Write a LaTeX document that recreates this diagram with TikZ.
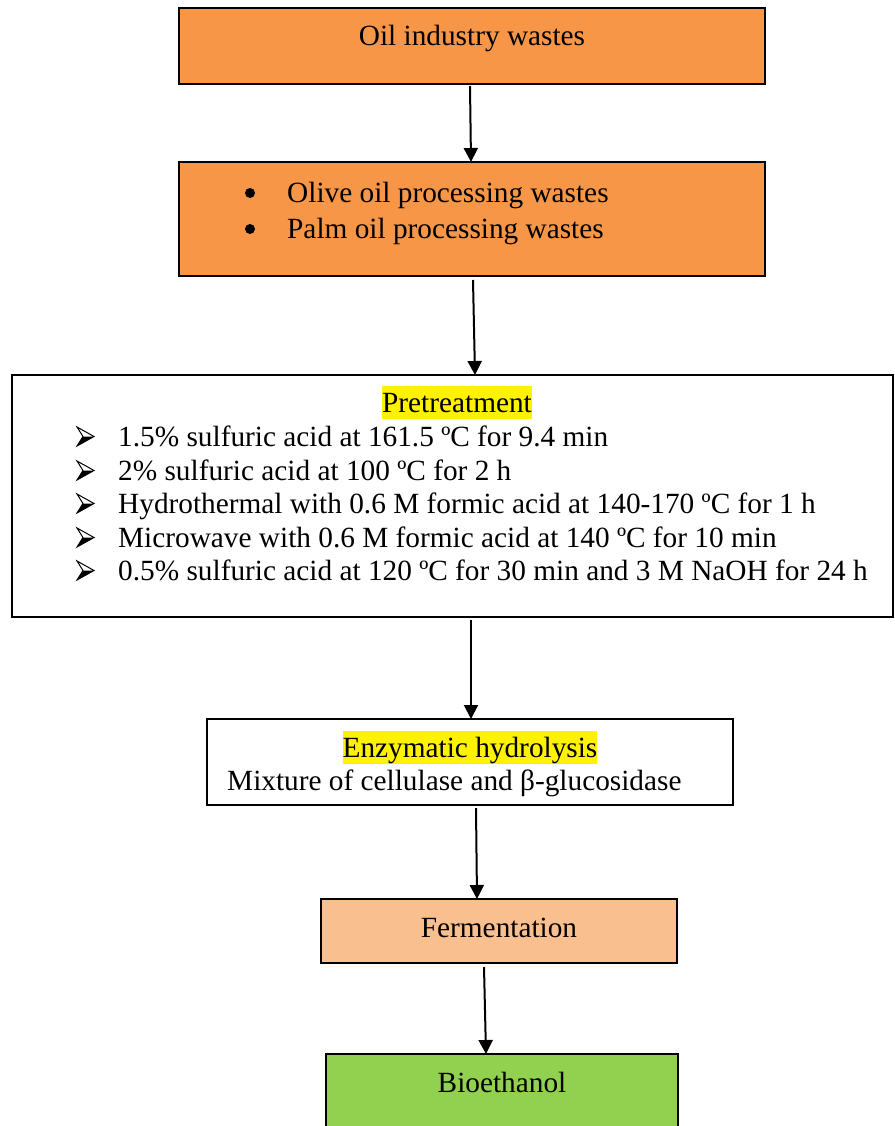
\documentclass[tikz,border=0pt]{standalone}
\usepackage{fontspec}
\setmainfont{Liberation Serif}
\usetikzlibrary{arrows.meta,calc}
\definecolor{orangeA}{HTML}{F79646}
\definecolor{orangeB}{HTML}{FABF8F}
\definecolor{greenA}{HTML}{92D050}
\begin{document}
\begin{tikzpicture}[x=1pt,y=-1pt,
  box/.style={draw=black,line width=2pt,rectangle,inner sep=0pt,outer sep=0pt},
  txt/.style={anchor=base west,inner sep=0pt,font=\fontsize{29.3}{34}\selectfont},
  ctxt/.style={anchor=base,inner sep=0pt,font=\fontsize{29.3}{34}\selectfont},
  hl/.style={ctxt,fill=yellow,text height=26pt,text depth=7pt},
  arr/.style={draw=black,line width=2pt,-{Triangle[width=14pt,length=14pt]}},
  bdot/.style={circle,fill=black,inner sep=0pt,minimum size=10pt},
  ptip/.pic={
    \fill[black] (0,0) -- (6,-9.5) -- (17,-9.5) -- cycle;
    \draw[black,line width=1pt,line join=miter] (0,0) -- (17,-9.5) -- (0,-19) -- (6,-9.5) -- cycle;
  }
]
\useasboundingbox[fill=white] (0,0) rectangle (894,1126);

% boxes
\node[box,fill=orangeA,minimum width=586pt,minimum height=76pt] (b1) at (472,46) {};
\node[box,fill=orangeA,minimum width=586pt,minimum height=114pt] (b2) at (472,219) {};
\node[box,fill=white,minimum width=881pt,minimum height=242pt] (b3) at (452,496) {};
\node[box,fill=white,minimum width=526pt,minimum height=86pt] (b4) at (470,762) {};
\node[box,fill=orangeB,minimum width=356pt,minimum height=64pt] (b5) at (499,931) {};
\node[box,fill=greenA,minimum width=352pt,minimum height=78pt] (b6) at (502,1093) {};

% texts
\node[ctxt] (t1) at (472,46) {Oil industry wastes};
\node[bdot] (u1) at (250,193) {};
\node[txt] (t2a) at (287,202) {Olive oil processing wastes};
\node[bdot] (u2) at (250,229) {};
\node[txt] (t2b) at (287,238) {Palm oil processing wastes};

\node[hl] (t3) at (457,412) {Pretreatment};
\pic at (77,446) {ptip};
\node[txt] (l1) at (118,446) {1.5\% sulfuric acid at 161.5 ºC for 9.4 min};
\pic at (77,480) {ptip};
\node[txt] (l2) at (118,480) {2\% sulfuric acid at 100 ºC for 2 h};
\pic at (77,513) {ptip};
\node[txt] (l3) at (118,513) {Hydrothermal with 0.6 M formic acid at 140-170 ºC for 1 h};
\pic at (77,547) {ptip};
\node[txt] (l4) at (118,547) {Microwave with 0.6 M formic acid at 140 ºC for 10 min};
\pic at (77,580) {ptip};
\node[txt] (l5) at (118,580) {0.5\% sulfuric acid at 120 ºC for 30 min and 3 M NaOH for 24 h};

\node[hl] (t4) at (470,757) {Enzymatic hydrolysis};
\node[txt] (t4b) at (227,790) {Mixture of cellulase and β-glucosidase};

\node[ctxt] (t5) at (499,937) {Fermentation};
\node[ctxt] (t6) at (502,1092) {Bioethanol};

% arrows
\draw[arr] ([xshift=-2pt,yshift=-2pt]b1.south) -- ([xshift=-1pt]b2.north);
\draw[arr] ([xshift=1pt,yshift=-4pt]b2.south) -- ([xshift=23pt]b3.north);
\draw[arr] ([xshift=19pt,yshift=-3pt]b3.south) -- ([xshift=1pt]b4.north);
\draw[arr] ([xshift=6pt,yshift=-3pt]b4.south) -- ([xshift=-22pt]b5.north);
\draw[arr] ([xshift=-15pt,yshift=-4pt]b5.south) -- ([xshift=-16pt]b6.north);
\end{tikzpicture}
\end{document}
